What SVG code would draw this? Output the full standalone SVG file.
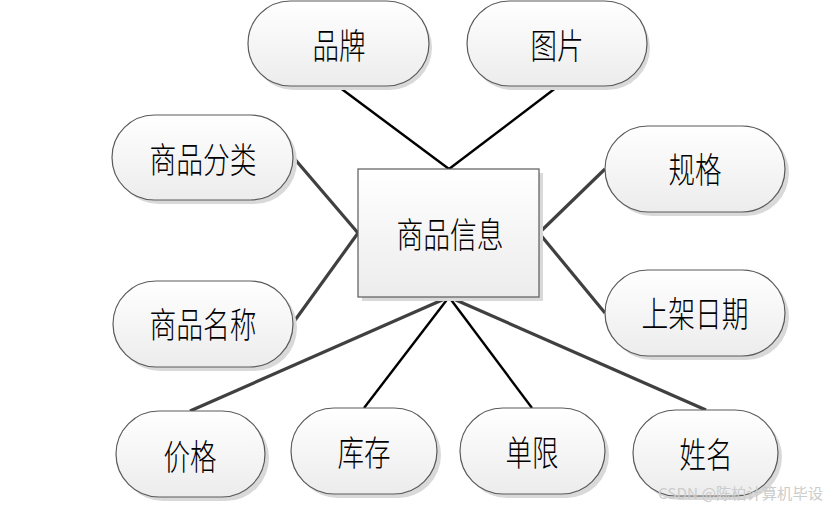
<svg xmlns="http://www.w3.org/2000/svg" width="835" height="509" viewBox="0 0 835 509">
<style>
.shape{fill:url(#g);stroke:#5a5a5a;stroke-width:1.2}
.shadow{fill:#d9d9d9;stroke:none}
.t{font-family:"Noto Sans CJK SC","Noto Sans CJK JP",sans-serif;font-size:35px;font-weight:300;fill:#000;text-anchor:middle}
.c1{stroke:#404040;stroke-width:3.2;fill:none}
.c2{stroke:#000;stroke-width:2.4;fill:none}
.wm{font-family:"Noto Sans CJK SC","Liberation Sans",sans-serif;font-size:15px;fill:#cccccc}
</style>
<defs>
<linearGradient id="g" x1="0" y1="0" x2="0" y2="1">
<stop offset="0" stop-color="#ffffff"/>
<stop offset="1" stop-color="#ececec"/>
</linearGradient>
</defs>
<rect width="835" height="509" fill="#fff"/>
<g id="connectors">
<line class="c2" x1="339" y1="87" x2="449" y2="169"/>
<line class="c2" x1="557" y1="87" x2="449" y2="169"/>
<line class="c1" x1="293" y1="157" x2="358" y2="233"/>
<line class="c1" x1="293" y1="323" x2="358" y2="233"/>
<line class="c1" x1="605" y1="169" x2="539" y2="233"/>
<line class="c1" x1="605" y1="313" x2="539" y2="233"/>
<line class="c1" x1="449" y1="297" x2="190" y2="411"/>
<line class="c2" x1="449" y1="297" x2="364" y2="408"/>
<line class="c2" x1="449" y1="297" x2="532" y2="408"/>
<line class="c1" x1="449" y1="297" x2="706" y2="410"/>
</g>
<g id="center">
<rect class="shadow" x="362" y="173" width="181" height="128"/>
<rect class="shape" x="358" y="169" width="181" height="128"/>
<text class="t" x="450" y="248" textLength="107" lengthAdjust="spacingAndGlyphs">商品信息</text>
</g>
<g id="n-pinpai">
<rect class="shadow" x="251" y="5" width="181" height="85" rx="42.5"/>
<rect class="shape" x="248" y="1" width="181" height="85" rx="42.5"/>
<text class="t" x="339" y="59" textLength="53" lengthAdjust="spacingAndGlyphs">品牌</text>
</g>
<g id="n-tupian">
<rect class="shadow" x="470" y="5" width="180" height="85" rx="42.5"/>
<rect class="shape" x="467" y="1" width="180" height="85" rx="42.5"/>
<text class="t" x="557" y="59" textLength="53" lengthAdjust="spacingAndGlyphs">图片</text>
</g>
<g id="n-fenlei">
<rect class="shadow" x="116" y="119" width="181" height="85" rx="42.5"/>
<rect class="shape" x="112" y="115" width="181" height="85" rx="42.5"/>
<text class="t" x="203" y="173" textLength="107" lengthAdjust="spacingAndGlyphs">商品分类</text>
</g>
<g id="n-mingcheng">
<rect class="shadow" x="117" y="285" width="180" height="86" rx="43"/>
<rect class="shape" x="113" y="281" width="180" height="86" rx="43"/>
<text class="t" x="203" y="338" textLength="107" lengthAdjust="spacingAndGlyphs">商品名称</text>
</g>
<g id="n-guige">
<rect class="shadow" x="609" y="130" width="180" height="86" rx="43"/>
<rect class="shape" x="605" y="126" width="180" height="86" rx="43"/>
<text class="t" x="695" y="183" textLength="53" lengthAdjust="spacingAndGlyphs">规格</text>
</g>
<g id="n-shangjia">
<rect class="shadow" x="609" y="274" width="180" height="86" rx="43"/>
<rect class="shape" x="605" y="270" width="180" height="86" rx="43"/>
<text class="t" x="695" y="327" textLength="107" lengthAdjust="spacingAndGlyphs">上架日期</text>
</g>
<g id="n-jiage">
<rect class="shadow" x="120" y="415" width="149" height="86" rx="43"/>
<rect class="shape" x="116" y="411" width="149" height="86" rx="43"/>
<text class="t" x="190" y="470" textLength="53" lengthAdjust="spacingAndGlyphs">价格</text>
</g>
<g id="n-kucun">
<rect class="shadow" x="295" y="412" width="146" height="86" rx="43"/>
<rect class="shape" x="291" y="408" width="146" height="86" rx="43"/>
<text class="t" x="364" y="466" textLength="53" lengthAdjust="spacingAndGlyphs">库存</text>
</g>
<g id="n-danxian">
<rect class="shadow" x="464" y="412" width="145" height="86" rx="43"/>
<rect class="shape" x="460" y="408" width="145" height="86" rx="43"/>
<text class="t" x="532" y="466" textLength="53" lengthAdjust="spacingAndGlyphs">单限</text>
</g>
<g id="n-xingming">
<rect class="shadow" x="637" y="414" width="145" height="86" rx="43"/>
<rect class="shape" x="633" y="410" width="145" height="86" rx="43"/>
<text class="t" x="706" y="468" textLength="53" lengthAdjust="spacingAndGlyphs">姓名</text>
</g>
<text class="wm" x="658" y="499" textLength="165" lengthAdjust="spacingAndGlyphs">CSDN @陈柏计算机毕设</text>
</svg>
